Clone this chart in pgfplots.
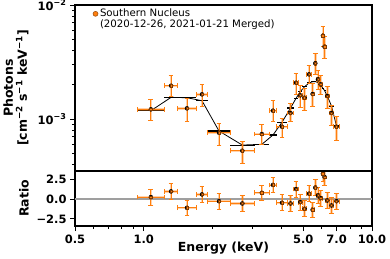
\documentclass[border=0pt]{standalone}
\usepackage{pgfplots}
\usepackage{pgfplotstable}
\pgfplotsset{compat=1.18}
\usepackage{fontspec}
\setmainfont{DejaVu Sans}
\definecolor{c1}{HTML}{FF7F0E}
\definecolor{c1dark}{HTML}{7A3A05}
\pgfplotstableread{
x xm xp y ym yp m r re
1.075 0.137 0.157 1.216e-3 0.250e-3 0.282e-3 1.183e-3 0.26 1
1.318 0.086 0.092 1.959e-3 0.390e-3 0.438e-3 1.550e-3 0.98 1
1.547 0.137 0.150 1.241e-3 0.287e-3 0.287e-3 1.537e-3 -1.10 1
1.800 0.103 0.110 1.647e-3 0.347e-3 0.368e-3 1.447e-3 0.60 1
2.137 0.227 0.255 0.758e-3 0.170e-3 0.159e-3 0.785e-3 -0.26 1
2.704 0.312 0.353 0.527e-3 0.118e-3 0.114e-3 0.591e-3 -0.55 1
3.293 0.236 0.254 0.739e-3 0.142e-3 0.156e-3 0.600e-3 0.80 1
3.684 0.137 0.142 1.183e-3 0.236e-3 0.264e-3 0.724e-3 1.80 1
4.034 0.208 0.220 0.856e-3 0.165e-3 0.150e-3 0.936e-3 -0.46 1
4.396 0.142 0.146 1.129e-3 0.182e-3 0.244e-3 1.249e-3 -0.55 1
4.647 0.105 0.107 2.082e-3 0.425e-3 0.435e-3 1.518e-3 1.28 1
4.851 0.097 0.099 1.614e-3 0.348e-3 0.373e-3 1.736e-3 -0.38 1
5.064 0.114 0.116 1.537e-3 0.338e-3 0.322e-3 1.920e-3 -1.22 1
5.299 0.119 0.121 2.466e-3 0.410e-3 0.510e-3 2.069e-3 0.69 1
5.494 0.074 0.076 1.657e-3 0.357e-3 0.399e-3 2.124e-3 -1.35 1
5.645 0.075 0.075 3.080e-3 0.599e-3 0.690e-3 2.130e-3 1.45 1
5.798 0.078 0.078 2.229e-3 0.407e-3 0.462e-3 2.090e-3 0.47 1
5.957 0.081 0.083 2.015e-3 0.368e-3 0.417e-3 1.987e-3 0.13 1
6.095 0.055 0.055 5.378e-3 1.010e-3 1.160e-3 1.859e-3 3.20 1
6.197 0.047 0.048 4.306e-3 0.900e-3 0.960e-3 1.778e-3 2.80 1
6.371 0.126 0.129 1.591e-3 0.350e-3 0.329e-3 1.591e-3 -0.17 1
6.648 0.148 0.152 1.129e-3 0.243e-3 0.198e-3 1.300e-3 -0.80 1
6.992 0.192 0.198 0.856e-3 0.202e-3 0.191e-3 0.868e-3 -0.26 1
}\spec
\pgfplotsset{
  myfaint/.style={only marks, mark=none, forget plot,
    error bars/x dir=both, error bars/x explicit, error bars/y dir=both, error bars/y explicit,
    error bars/error bar style={draw=c1, draw opacity=0.35, line width=2.4pt},
    error bars/error mark=none},
  mydata/.style={only marks, mark=square*, mark size=1.2pt, forget plot,
    mark options={fill=c1, draw=c1dark, line width=0.5pt},
    error bars/x dir=both, error bars/x explicit, error bars/y dir=both, error bars/y explicit,
    error bars/error bar style={draw=c1, line width=0.8pt},
    error bars/error mark options={draw=c1, line width=0.8pt, mark size=2.4pt, rotate=90}},
}
\begin{document}
\begin{tikzpicture}
\useasboundingbox (-75pt,-32pt) rectangle (315pt,226pt);
% ratio panel
\begin{axis}[scale only axis, width=297pt, xmode=log, xmin=0.5, xmax=10,
  tick align=outside, xtick pos=bottom, ytick pos=left,
  axis line style={line width=1.1pt},
  major tick style={line width=0.9pt, black},
  minor tick style={line width=0.7pt, black},
  major tick length=5pt, minor tick length=3pt,
  ticklabel style={font=\bfseries\fontsize{11.5}{12}\selectfont},
  label style={font=\bfseries\fontsize{12.5}{14}\selectfont},
  /pgf/number format/assume math mode=true,
  at={(0pt,0pt)}, anchor=south west, height=55pt,
  ymin=-3.4, ymax=3.56,
  xtick={0.5,1,5,7,10}, xticklabels={0.5,1.0,5.0,7.0,10.0},
  minor xtick={0.6,0.7,0.8,0.9,2,3,4,6,8,9},
  ytick={-2.5,0,2.5}, yticklabels={−2.5,0.0,2.5},
  xlabel={Energy (keV)}, ylabel={Ratio},
  xlabel style={at={(axis description cs:0.5,-0.40)}, anchor=center},
  ylabel style={at={(axis description cs:-0.172,0.5)}, anchor=center},
]
\addplot[gray!75, line width=1.5pt, forget plot] coordinates {(0.5,0) (10,0)};
\addplot[myfaint] table[x=x, y=r, x error minus=xm, x error plus=xp, y error=re]{\spec};
\addplot[mydata] table[x=x, y=r, x error minus=xm, x error plus=xp, y error=re]{\spec};
\end{axis}
% spectrum panel
\begin{axis}[scale only axis, width=297pt, xmode=log, xmin=0.5, xmax=10,
  tick align=outside, xtick pos=bottom, ytick pos=left,
  axis line style={line width=1.1pt},
  major tick style={line width=0.9pt, black},
  minor tick style={line width=0.7pt, black},
  major tick length=5pt, minor tick length=3pt,
  ticklabel style={font=\bfseries\fontsize{11.5}{12}\selectfont},
  label style={font=\bfseries\fontsize{12.5}{14}\selectfont},
  /pgf/number format/assume math mode=true,
  at={(0pt,55pt)}, anchor=south west, height=166pt,
  ymode=log, ymin=3.5e-4, ymax=1e-2,
  xtick=\empty, minor xtick={},
  ytick={1e-3,1e-2}, yticklabels={10\textsuperscript{−3},10\textsuperscript{−2}},
  minor ytick={4e-4,5e-4,6e-4,7e-4,8e-4,9e-4,2e-3,3e-3,4e-3,5e-3,6e-3,7e-3,8e-3,9e-3},
  ylabel={Photons\\{[}cm\textsuperscript{−2} s\textsuperscript{−1} keV\textsuperscript{−1}{]}},
  ylabel style={align=center, at={(axis description cs:-0.199,0.5)}, anchor=center},
  legend style={at={(axis description cs:0.06,0.988)}, anchor=north west, draw=none, fill=none,
    font=\fontsize{10.2}{11}\selectfont, inner sep=0pt},
  legend cell align=left,
  legend image code/.code={\draw[mark=*, mark size=2.5pt, mark options={fill=c1, draw=c1dark!80!c1, line width=0.5pt}] plot coordinates {(0pt,0pt)};},
]
\addplot[draw=none, mark=none, forget plot, error bars/x dir=both, error bars/x explicit,
  error bars/error bar style={draw=black, line width=1.1pt}, error bars/error mark=none]
  table[x=x, y=m, x error minus=xm, x error plus=xp]{\spec};
\addplot[black, line width=0.8pt, mark=none, forget plot] table[x=x, y=m]{\spec};
\addplot[myfaint] table[x=x, y=y, x error minus=xm, x error plus=xp, y error minus=ym, y error plus=yp]{\spec};
\addplot[mydata] table[x=x, y=y, x error minus=xm, x error plus=xp, y error minus=ym, y error plus=yp]{\spec};
\addlegendimage{only marks}
\addlegendentry{\begin{tabular}[t]{@{}l@{}}Southern Nucleus\\(2020-12-26, 2021-01-21 Merged)\end{tabular}}
\end{axis}
\end{tikzpicture}
\end{document}
